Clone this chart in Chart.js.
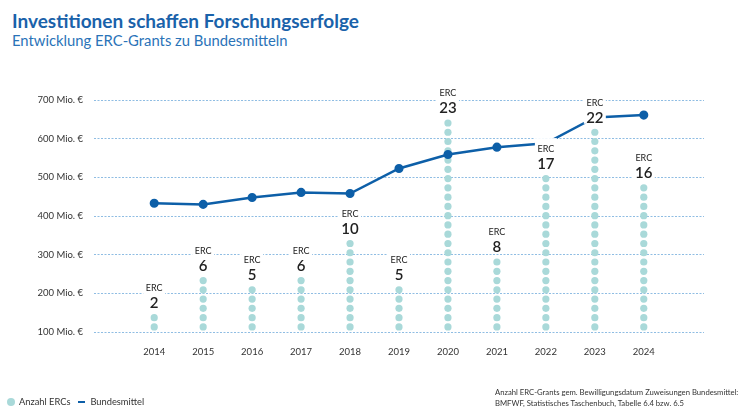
<!DOCTYPE html>
<html>
<head>
<meta charset="utf-8">
<script src="https://cdn.jsdelivr.net/npm/chart.js@4"></script>
<style>
  body { margin: 0; width: 743px; height: 420px; background: #fff; font-family: Lato, sans-serif; position: relative; overflow: hidden; }
  #wrap { position: absolute; left: 0; top: 0; width: 743px; height: 420px; }
  .title { position: absolute; left: 12px; top: 9px; font-size: 19px; font-weight: 700; color: #1a62aa; white-space: nowrap; }
  .subtitle { position: absolute; left: 12px; top: 31px; font-size: 14.8px; color: #2a73b8; white-space: nowrap; }
  .legend { position: absolute; left: 7px; top: 396px; font-size: 9.3px; color: #333; white-space: nowrap; display: flex; align-items: center; }
  .legend .dot { width: 8px; height: 8px; border-radius: 50%; background: #a9d9d9; margin-right: 4px; }
  .legend .ln { width: 7px; height: 2px; background: #0d5fa8; margin: 0 5px 0 8px; }
  .source { position: absolute; left: 495px; top: 387px; font-size: 7.7px; line-height: 11px; color: #333; white-space: nowrap; }
</style>
</head>
<body>
<div class="title">Investitionen schaffen Forschungserfolge</div>
<div class="subtitle">Entwicklung ERC-Grants zu Bundesmitteln</div>
<div id="wrap"><canvas id="myChart"></canvas></div>
<div class="legend"><span class="dot"></span>Anzahl ERCs<span class="ln"></span>Bundesmittel</div>
<div class="source">Anzahl ERC-Grants gem. Bewilligungsdatum Zuweisungen Bundesmittel:<br>BMFWF, Statistisches Taschenbuch, Tabelle 6.4 bzw. 6.5</div>
<script>
const years = [2014, 2015, 2016, 2017, 2018, 2019, 2020, 2021, 2022, 2023, 2024];
const ercCounts = [2, 6, 5, 6, 10, 5, 23, 8, 17, 22, 16];
const bundesmittel = [433, 430, 448, 461, 458, 523, 559, 578, 588, 655, 661];
const yTicks = [100, 200, 300, 400, 500, 600, 700];

const linePoints = years.map((y, i) => ({ x: y, y: bundesmittel[i] }));
// one point per ERC grant, stacked in a column
const dotPoints = [];
years.forEach((y, i) => {
  for (let k = 0; k < ercCounts[i]; k++) dotPoints.push({ x: y, y: k });
});

const ercLabels = {
  id: "ercLabels",
  afterDatasetsDraw(chart) {
    const ctx = chart.ctx;
    const xs = chart.scales.x;
    const y2 = chart.scales.y2;
    ctx.save();
    years.forEach((yr, i) => {
      const x = xs.getPixelForValue(yr);
      const top = y2.getPixelForValue(ercCounts[i] - 1);
      const numY = top - 14.5;
      const ercY = top - 29.5;
      ctx.font = "600 15px Lato, sans-serif";
      const w = Math.max(ctx.measureText(String(ercCounts[i])).width, 18) + 4;
      ctx.fillStyle = "#fff";
      ctx.fillRect(x - w / 2, ercY - 11, w, numY - ercY + 17);
      ctx.fillStyle = "#222";
      ctx.textAlign = "center";
      ctx.textBaseline = "middle";
      ctx.fillText(String(ercCounts[i]), x, numY);
      ctx.font = "9px Lato, sans-serif";
      ctx.fillText("ERC", x, ercY);
    });
    ctx.restore();
  }
};

new Chart(document.getElementById("myChart"), {
  type: "scatter",
  data: {
    datasets: [
      {
        label: "Bundesmittel",
        data: linePoints,
        yAxisID: "y",
        showLine: true,
        borderColor: "#0d5fa8",
        backgroundColor: "#0d5fa8",
        borderWidth: 2.5,
        pointRadius: 3.3,
        pointHoverRadius: 3.3,
        order: 0,
      },
      {
        label: "Anzahl ERCs",
        data: dotPoints,
        yAxisID: "y2",
        backgroundColor: "#a9d9d9",
        borderWidth: 0,
        pointRadius: 3.6,
        pointHoverRadius: 3.6,
        order: 1,
      },
    ],
  },
  options: {
    responsive: true,
    maintainAspectRatio: false,
    animation: false,
    events: [],
    layout: { padding: { left: 24, right: 39, top: 100, bottom: 58 } },
    plugins: { legend: { display: false }, tooltip: { enabled: false } },
    scales: {
      x: {
        type: "linear",
        min: 2012.77,
        max: 2025.23,
        afterBuildTicks: (s) => { s.ticks = years.map((v) => ({ value: v })); },
        afterFit: (s) => { s.height = 30; },
        grid: { display: false },
        border: { display: false },
        ticks: {
          padding: 6,
          color: "#333",
          font: { family: "Lato", size: 9.5 },
          callback: (v) => String(v),
        },
      },
      y: {
        min: 100,
        max: 700,
        afterBuildTicks: (s) => { s.ticks = yTicks.map((v) => ({ value: v })); },
        afterFit: (s) => { s.width = 70; },
        border: { display: false, dash: [2, 1.5] },
        grid: {
          color: "#8fbde3",
          lineWidth: 1,
          drawTicks: false,
        },
        ticks: {
          padding: 11,
          color: "#333",
          font: { family: "Lato", size: 9.5 },
          callback: (v) => v + " Mio. €",
        },
      },
      y2: {
        display: false,
        min: -0.55,
        max: 24.48,
      },
    },
  },
  plugins: [ercLabels],
});
</script>
</body>
</html>
